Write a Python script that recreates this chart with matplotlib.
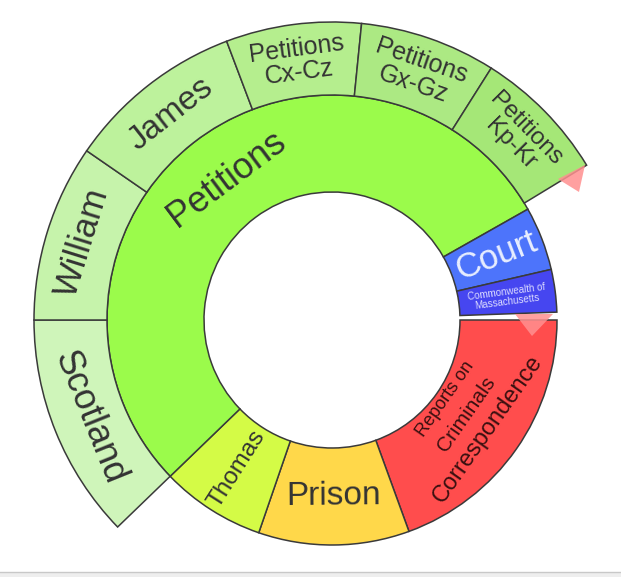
import numpy as np
import matplotlib.pyplot as plt
from matplotlib.patches import Wedge, Polygon, Rectangle

plt.rcParams["font.family"] = ["Liberation Sans", "DejaVu Sans"]

# ------------------------------------------------------------
# Data (whole circle = 360 units), listed clockwise
# ------------------------------------------------------------

inner_labels = ["Reports on\nCriminals\nCorrespondence", "Prison", "Thomas",
                "Petitions", "Court", "Commonwealth of\nMassachusetts", ""]
inner_values = [70, 39, 27, 194.5, 16.5, 11, 2]
inner_colors = ["#ff4d4d", "#ffd84a", "#d4fb46", "#9bfb4b", "#4d74fb", "#4646f0", "none"]

# children of "Petitions"
outer_labels = ["Scotland", "William", "James",
                "Petitions\nCx-Cz", "Petitions\nGx-Gz", "Petitions\nKp-Kr"]
outer_values = [44, 34.6, 34.7, 26.4, 26.6, 26.4]
outer_colors = ["#cff5ba", "#c6f3ab", "#bdf29c", "#b5ee8e", "#ace983", "#a5e777"]

TOTAL = 360.0

# ------------------------------------------------------------
# Geometry (pixels)
# ------------------------------------------------------------

W, H = 621, 577
cx, cy = 332, H - 320
r_hole, r_inner, r_outer = 128, 225, 298

fig = plt.figure(figsize=(W / 100, H / 100), dpi=100)
ax = fig.add_axes([0, 0, 1, 1])
ax.set_xlim(0, W)
ax.set_ylim(0, H)
ax.set_aspect("equal")
ax.axis("off")


def place_label(ax, text, span, r0, r1, size, color, line_sizes=None):
    """Radial label for narrow slices, tangential otherwise."""
    rm = (r0 + r1) / 2
    arc = np.deg2rad(abs(span[1] - span[0])) * rm
    m = (span[0] + span[1]) / 2
    if arc < (r1 - r0):
        rot = ((m + 90) % 180) - 90
    else:
        rot = (m % 180) - 90
    x = cx + rm * np.cos(np.deg2rad(m))
    y = cy + rm * np.sin(np.deg2rad(m))
    if line_sizes is None:
        ax.text(x, y, text, rotation=rot, rotation_mode="anchor",
                ha="center", va="center", fontsize=size, color=color,
                multialignment="center", linespacing=1.0)
        return
    # lines with their own sizes, stacked across the ring
    lines = text.split("\n")
    up = np.array([-np.sin(np.deg2rad(rot)), np.cos(np.deg2rad(rot))])
    step = 26
    n = len(lines)
    for k, (line, s) in enumerate(zip(lines, line_sizes)):
        off = ((n - 1) / 2 - k) * step + 12
        ax.text(x + up[0] * off, y + up[1] * off, line,
                rotation=rot, rotation_mode="anchor", ha="center", va="center",
                fontsize=s, color=color)


def draw_ring(ax, labels, values, colors, start, r0, r1, sizes, tcolors, line_sizes):
    cum = start
    for lab, v, col, s, tc, ls in zip(labels, values, colors, sizes, tcolors, line_sizes):
        a_start = cum
        a_end = cum - v / TOTAL * 360
        cum = a_end
        if col == "none":
            continue
        ax.add_patch(Wedge((cx, cy), r1, a_end, a_start, width=r1 - r0,
                           facecolor=col, edgecolor="#3a3a3a", lw=1.1))
        place_label(ax, lab, (a_start, a_end), r0, r1, s, tc, ls)


# inner ring
inner_sizes = [14, 24, 17.5, 26, 25, 7, 10]
inner_text = ["#3a1010", "#333333", "#333333", "#333333", "#e8eeff", "#dcdcff", "#333333"]
inner_ls = [[13, 15, 17], None, None, None, None, None, None]
draw_ring(ax, inner_labels, inner_values, inner_colors, 0, r_hole, r_inner,
          inner_sizes, inner_text, inner_ls)

# outer ring starts where "Petitions" starts
pet_start = 0 - sum(inner_values[:3]) / TOTAL * 360
outer_sizes = [26, 25, 24, 18, 18, 17.5]
draw_ring(ax, outer_labels, outer_values, outer_colors, pet_start, r_inner, r_outer,
          outer_sizes, ["#333333"] * 6, [None] * 6)

# small pink markers
ax.add_patch(Polygon([(515, H - 314), (553, H - 314), (532, H - 336)],
                     closed=True, facecolor="#ff9090", edgecolor="none", alpha=0.85))
ax.add_patch(Polygon([(558, H - 179), (585, H - 165), (579, H - 192)],
                     closed=True, facecolor="#ff9090", edgecolor="none", alpha=0.85))

# bottom border strip
ax.add_patch(Rectangle((0, 0), W, 5, facecolor="#eeeeee", edgecolor="none"))
ax.plot([0, W], [5, 5], color="#c8c8c8", lw=1)

fig.savefig("out.png", dpi=100)
